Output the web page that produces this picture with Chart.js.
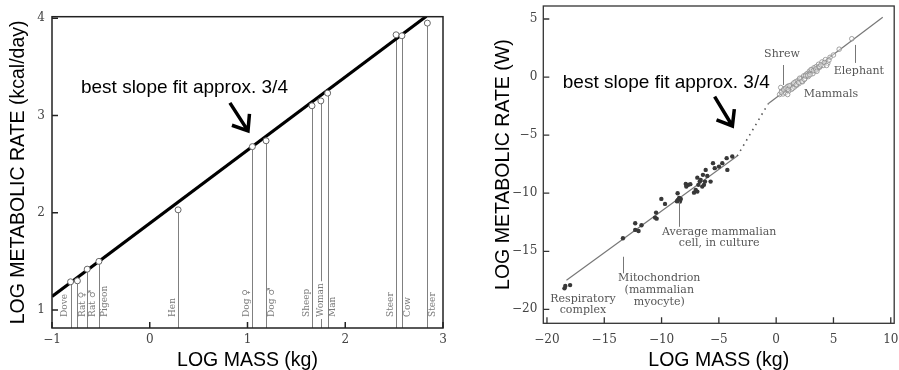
<!DOCTYPE html>
<html>
<head>
<meta charset="utf-8">
<script src="https://cdn.jsdelivr.net/npm/chart.js@4.4.1/dist/chart.umd.min.js"></script>
<style>
  html, body { margin: 0; padding: 0; background: #fff; }
  #wrap { position: relative; width: 899px; height: 370px; }
  .panel { position: absolute; top: 0; height: 370px; }
  #left  { left: 0;     width: 450px; }
  #right { left: 450px; width: 449px; }
</style>
</head>
<body>
<div id="wrap">
  <div class="panel" id="left"><canvas id="chart-left"></canvas></div>
  <div class="panel" id="right"><canvas id="chart-right"></canvas></div>
</div>
<script>
/* Metabolic scaling: Kleiber plot (left) and molecules-to-elephants plot (right) */

// left panel
const ANIMALS     = ['Dove','Rat ♀','Rat ♂','Pigeon','Hen','Dog ♀','Dog ♂','Sheep','Woman','Man','Steer','Cow','Steer'];
const ANIMAL_MASS = [-0.81, -0.74, -0.64, -0.52, 0.29, 1.05, 1.19, 1.66, 1.75, 1.82, 2.52, 2.58, 2.84];
const ANIMAL_RATE = [1.29, 1.30, 1.42, 1.50, 2.03, 2.68, 2.74, 3.10, 3.15, 3.23, 3.83, 3.82, 3.95];
const FIT_MASS = [-1, 2.83];
const FIT_RATE = [1.14, 4.02];
const LEFT_X_TICKS = [-1, 0, 1, 2, 3];
const LEFT_Y_TICKS = [1, 2, 3, 4];

// right panel
const CELL_MASS = [-18.47,-18.4,-17.98,-13.37,-12.3,-12.3,-12.01,-11.75,-10.57,-10.48,-10.43,-10.02,-9.7,
  -8.6,-8.58,-8.46,-8.32,-8.4,-8.66,-7.89,-7.66,-7.84,-7.49,-7.17,-7.02,-6.88,-6.79,-6.88,-6.67,
  -6.59,-6.39,-6.21,-6.15,-6.01,-5.72,-6.3,-6.45,-5.51,-5.36,-4.99,-4.7,-4.32,-3.83,-4.26];
const CELL_RATE = [-18.19,-17.99,-17.91,-13.88,-12.59,-13.16,-13.25,-12.76,-12.1,-11.67,-12.19,-10.49,-10.92,
  -10.0,-10.58,-10.4,-10.49,-10.72,-10.69,-9.2,-9.28,-9.43,-9.22,-9.95,-9.72,-9.86,-9.28,-8.66,-9.0,
  -8.85,-8.42,-9.0,-7.99,-8.51,-9.0,-9.28,-9.43,-7.41,-7.84,-7.71,-7.41,-6.98,-6.84,-7.99];
const MAMMAL_MASS = [0.3,0.5,0.6,0.7,0.8,0.9,1.0,1.1,1.2,1.3,1.35,1.5,1.6,1.7,1.8,1.9,2.0,2.1,2.2,2.3,2.4,2.5,
  2.6,2.7,2.8,2.9,3.0,3.1,3.2,3.3,3.4,3.5,3.6,3.7,3.8,4.0,4.1,4.3,4.5,4.7,5.0,5.5,6.6,1.0,0.4,
  0.45,0.65,0.85,1.05,1.15,1.45,1.55,1.75,1.95,2.05,2.25,2.45,2.55,2.75,2.95,3.05,3.25,3.45,3.55,3.75,
  3.9,4.2,4.4,4.6];
const MAMMAL_RATE = [-1.5,-1.2,-1.45,-1.0,-1.35,-1.1,-0.8,-1.2,-0.9,-0.7,-1.05,-0.6,-0.85,-0.4,-0.7,-0.3,-0.55,
  -0.2,-0.1,-0.4,0.1,-0.15,0.2,0.3,0.05,0.5,0.4,0.6,0.3,0.8,0.55,0.9,0.7,1.1,0.85,1.3,1.0,1.5,1.2,1.7,
  1.9,2.4,3.3,-1.5,-0.9,
  -1.3,-1.1,-0.95,-1.05,-0.75,-0.95,-0.5,-0.65,-0.45,-0.1,-0.35,-0.2,0.1,0.15,0.2,0.65,0.55,0.7,0.5,0.9,
  1.05,1.25,1.0,1.45];
const LOW_FIT_MASS  = [-18.3, -3.4];
const LOW_FIT_RATE  = [-17.5, -6.8];
const GAP_MASS      = [-3.4, -0.7];
const GAP_RATE      = [-6.8, -2.3];
const HIGH_FIT_MASS = [-0.7, 9.3];
const HIGH_FIT_RATE = [-2.3, 5.15];
const RIGHT_X_TICKS = [-20, -15, -10, -5, 0, 5, 10];
const RIGHT_Y_TICKS = [5, 0, -5, -10, -15, -20];

const SANS  = '"Liberation Sans", Arial, sans-serif';
const SERIF = '"DejaVu Serif", serif';

const pts = (xs, ys) => xs.map((x, i) => ({ x, y: ys[i] }));
const minus = v => String(v).replace('-', '\u2212');

function fixedAxis(size, ticks) {
  return {
    afterFit(s) {
      if (s.isHorizontal()) s.height = size; else s.width = size;
      s.paddingLeft = s.paddingRight = s.paddingTop = s.paddingBottom = 0;
    },
    afterBuildTicks(s) { s.ticks = ticks.map(v => ({ value: v })); },
  };
}

function axisOpts(o) {
  return Object.assign({
    type: 'linear',
    grid: { display: false, drawTicks: false },
    border: { display: false },
    ticks: {
      autoSkip: false, maxRotation: 0, padding: o.pad,
      color: '#444', font: { family: SERIF, size: 12 },
      callback: v => minus(v),
    },
    title: {
      display: true, text: o.title, color: '#000',
      font: { family: SANS, size: 19.5, lineHeight: 1.0 },
      padding: o.titlePad,
    },
  }, fixedAxis(o.size, o.ticks), { min: o.min, max: o.max });
}

function frameAndTicks(chart, xTicks, yTicks, color, lw) {
  const { ctx, chartArea: a, scales: { x, y } } = chart;
  ctx.save();
  ctx.strokeStyle = color;
  ctx.lineWidth = lw;
  ctx.strokeRect(a.left, a.top, a.right - a.left, a.bottom - a.top);
  ctx.beginPath();
  xTicks.forEach(v => { const px = x.getPixelForValue(v); ctx.moveTo(px, a.bottom); ctx.lineTo(px, a.bottom - 6); });
  yTicks.forEach(v => { const py = y.getPixelForValue(v); ctx.moveTo(a.left, py); ctx.lineTo(a.left + 6, py); });
  ctx.stroke();
  ctx.restore();
}

function drawArrow(chart, x1, y1, x2, y2) {
  const { ctx, scales: { x, y } } = chart;
  const ax = x.getPixelForValue(x1), ay = y.getPixelForValue(y1);
  const bx = x.getPixelForValue(x2), by = y.getPixelForValue(y2);
  const ang = Math.atan2(by - ay, bx - ax);
  const head = 17, spread = 0.66;
  ctx.save();
  ctx.strokeStyle = '#000';
  ctx.lineWidth = 3.5;
  ctx.lineCap = 'butt';
  ctx.lineJoin = 'miter';
  ctx.beginPath();
  ctx.moveTo(ax, ay);
  ctx.lineTo(bx, by);
  ctx.moveTo(bx - head * Math.cos(ang - spread), by - head * Math.sin(ang - spread));
  ctx.lineTo(bx, by);
  ctx.lineTo(bx - head * Math.cos(ang + spread), by - head * Math.sin(ang + spread));
  ctx.stroke();
  ctx.restore();
}

function note(chart, text, vx, vy, font, color) {
  const { ctx, scales: { x, y } } = chart;
  ctx.save();
  ctx.font = font;
  ctx.fillStyle = color;
  ctx.textAlign = 'center';
  ctx.textBaseline = 'middle';
  ctx.fillText(text, x.getPixelForValue(vx), y.getPixelForValue(vy));
  ctx.restore();
}

function leader(chart, vx, vy1, vy2) {
  const { ctx, scales: { x, y } } = chart;
  const px = Math.round(x.getPixelForValue(vx)) + 0.5;
  ctx.save();
  ctx.strokeStyle = '#777';
  ctx.lineWidth = 1;
  ctx.beginPath();
  ctx.moveTo(px, y.getPixelForValue(vy1));
  ctx.lineTo(px, y.getPixelForValue(vy2));
  ctx.stroke();
  ctx.restore();
}

/* ---------- left: stems and labels under each animal ---------- */
const LABEL_SIDE = [-1, 1, 1, 1, -1, -1, 1, -1, 0, 1, -1, 1, 1];

const leftDecor = {
  id: 'leftDecor',
  beforeDatasetsDraw(chart) {
    const { ctx, chartArea: a, scales: { x, y } } = chart;
    ctx.save();
    ctx.strokeStyle = '#808080';
    ctx.lineWidth = 1;
    ANIMAL_MASS.forEach((m, i) => {
      const px = Math.round(x.getPixelForValue(m)) + 0.5;
      ctx.beginPath();
      ctx.moveTo(px, y.getPixelForValue(ANIMAL_RATE[i]));
      ctx.lineTo(px, a.bottom);
      ctx.stroke();
    });
    ctx.font = '9px ' + SERIF;
    ctx.textAlign = 'left';
    ctx.textBaseline = 'middle';
    ANIMALS.forEach((name, i) => {
      const px = x.getPixelForValue(ANIMAL_MASS[i]) + LABEL_SIDE[i] * 5.5;
      const py = a.bottom - 11;
      ctx.save();
      ctx.translate(px, py);
      ctx.rotate(-Math.PI / 2);
      if (LABEL_SIDE[i] === 0) {
        const w = ctx.measureText(name).width;
        ctx.fillStyle = '#fff';
        ctx.fillRect(-2, -5, w + 4, 10);
      }
      ctx.fillStyle = '#7a7a7a';
      ctx.fillText(name, 0, 0);
      ctx.restore();
    });
    ctx.restore();
  },
  afterDatasetsDraw(chart) {
    frameAndTicks(chart, LEFT_X_TICKS, LEFT_Y_TICKS, '#222', 1.5);
    note(chart, 'best slope fit approx. 3/4', 0.355, 3.29, '19px ' + SANS, '#000');
    drawArrow(chart, 0.82, 3.13, 1.005, 2.842);
  },
};

/* ---------- right: labels for the size classes ---------- */
const rightDecor = {
  id: 'rightDecor',
  afterDatasetsDraw(chart) {
    frameAndTicks(chart, RIGHT_X_TICKS, RIGHT_Y_TICKS, '#333', 1.3);
    const f = '11px ' + SERIF, c = '#555';
    note(chart, 'Shrew', 0.51, 1.99, f, c);
    leader(chart, 0.58, 1.04, -0.68);
    note(chart, 'Elephant', 7.22, 0.55, f, c);
    leader(chart, 6.92, 2.77, 1.22);
    note(chart, 'Mammals', 4.78, -1.46, f, c);
    note(chart, 'Average mammalian', -4.97, -13.32, f, c);
    note(chart, 'cell, in culture', -4.97, -14.26, f, c);
    leader(chart, -8.48, -10.73, -12.89);
    note(chart, 'Mitochondrion', -10.2, -17.33, f, c);
    note(chart, '(mammalian', -10.2, -18.34, f, c);
    note(chart, 'myocyte)', -10.2, -19.35, f, c);
    leader(chart, -13.35, -15.47, -16.9);
    note(chart, 'Respiratory', -16.86, -19.11, f, c);
    note(chart, 'complex', -16.86, -20.06, f, c);
    note(chart, 'best slope fit approx. 3/4', -9.59, -0.45, '19px ' + SANS, '#000');
    drawArrow(chart, -5.37, -1.69, -3.82, -4.21);
  },
};

const base = {
  responsive: false,
  animation: false,
  plugins: { legend: { display: false }, tooltip: { enabled: false } },
};

function makeCanvas(id, w, h) {
  const c = document.getElementById(id);
  c.width = w; c.height = h;
  c.style.width = w + 'px'; c.style.height = h + 'px';
  return c;
}

new Chart(makeCanvas('chart-left', 450, 370), {
  type: 'scatter',
  data: {
    datasets: [
      {
        label: 'Animals',
        data: pts(ANIMAL_MASS, ANIMAL_RATE),
        pointRadius: 3, pointBackgroundColor: '#fff',
        pointBorderColor: '#666', pointBorderWidth: 1,
      },
      {
        label: 'Fit',
        data: pts(FIT_MASS, FIT_RATE),
        showLine: true, pointRadius: 0,
        borderColor: '#000', borderWidth: 3.2,
      },
    ],
  },
  options: Object.assign({}, base, {
    layout: { padding: { left: 0, top: 16.7, right: 7, bottom: 0 } },
    scales: {
      x: axisOpts({ min: -1, max: 3, ticks: LEFT_X_TICKS, size: 42, pad: 5,
        title: 'LOG MASS (kg)', titlePad: { top: 0, bottom: 0 } }),
      y: axisOpts({ min: 0.815, max: 4.016, ticks: LEFT_Y_TICKS, size: 52, pad: 7,
        title: 'LOG METABOLIC RATE (kcal/day)', titlePad: { top: 9, bottom: 0 } }),
    },
  }),
  plugins: [leftDecor],
});

new Chart(makeCanvas('chart-right', 449, 370), {
  type: 'scatter',
  data: {
    datasets: [
      {
        label: 'Cells and organelles',
        data: pts(CELL_MASS, CELL_RATE),
        pointRadius: 2.2, pointBackgroundColor: '#383838',
        pointBorderColor: '#383838', pointBorderWidth: 0,
      },
      {
        label: 'Mammals',
        data: pts(MAMMAL_MASS, MAMMAL_RATE),
        pointRadius: 2.3, pointBackgroundColor: 'rgba(255,255,255,0.4)',
        pointBorderColor: '#8c8c8c', pointBorderWidth: 0.8,
      },
      {
        label: 'Fit (small)',
        data: pts(LOW_FIT_MASS, LOW_FIT_RATE),
        showLine: true, pointRadius: 0, borderColor: '#777', borderWidth: 1.2,
      },
      {
        label: 'Gap',
        data: pts(GAP_MASS, GAP_RATE),
        showLine: true, pointRadius: 0, borderColor: '#555', borderWidth: 1.6,
        borderDash: [1.5, 4.5],
      },
      {
        label: 'Fit (large)',
        data: pts(HIGH_FIT_MASS, HIGH_FIT_RATE),
        showLine: true, pointRadius: 0, borderColor: '#777', borderWidth: 1.2,
      },
    ],
  },
  options: Object.assign({}, base, {
    layout: { padding: { left: 0, top: 6, right: 4, bottom: 0 } },
    scales: {
      x: axisOpts({ min: -20.32, max: 10.3, ticks: RIGHT_X_TICKS, size: 46.7, pad: 9,
        title: 'LOG MASS (kg)', titlePad: { top: 0, bottom: 0 } }),
      y: axisOpts({ min: -21.2, max: 6.12, ticks: RIGHT_Y_TICKS, size: 93.3, pad: 6,
        title: 'LOG METABOLIC RATE (W)', titlePad: { top: 44, bottom: 0 } }),
    },
  }),
  plugins: [rightDecor],
});
</script>
</body>
</html>
